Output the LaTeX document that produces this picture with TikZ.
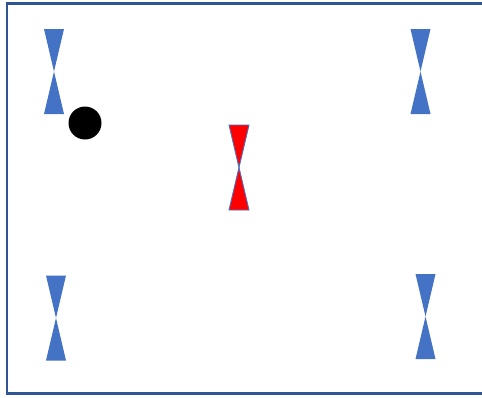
\documentclass[tikz,border=0pt]{standalone}
\usepackage{tikz}
\definecolor{tieblue}{HTML}{4472C4}
\definecolor{framblue}{HTML}{2F5597}
\tikzset{
  tie/.style={fill=tieblue,draw=none},
  redtie/.style={fill=red,draw=tieblue,line width=0.5pt},
  frame/.style={draw=framblue,line width=1.7pt},
  pics/bowtie/.style={code={
    \path[pic actions] (-10,-42.5) -- (10,-42.5) -- (0,0) -- cycle;
    \path[pic actions] (-10,42.5) -- (10,42.5) -- (0,0) -- cycle;
  }}
}
\begin{document}
\begin{tikzpicture}[x=0.02cm,y=-0.02cm]
\clip (0,0) rectangle (482,397);
\useasboundingbox (0,0) rectangle (482,397);
% outer frame
\draw[frame] (7,3) rectangle (495,393);
% bow ties
\pic[tie] (tl) at (54,71.5) {bowtie};
\pic[tie] (tr) at (420.5,71.5) {bowtie};
\pic[tie] (bl) at (56,318) {bowtie};
\pic[tie] (br) at (425.5,316.5) {bowtie};
\pic[redtie] (mid) at (239,167.5) {bowtie};
% ball
\fill (85,123) circle (16.5);
\end{tikzpicture}
\end{document}
